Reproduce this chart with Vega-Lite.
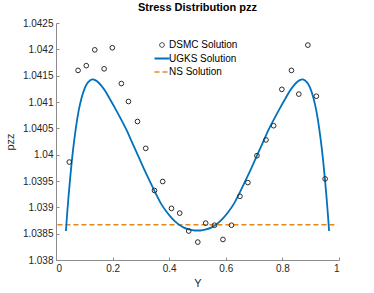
{
  "$schema": "https://vega.github.io/schema/vega-lite/v6.json",
  "width": 283,
  "height": 237,
  "autosize": {"type": "none"},
  "padding": {"left": 56, "top": 23, "right": 35, "bottom": 33},
  "background": "white",
  "config": {
    "font": "Liberation Sans",
    "view": {"stroke": null},
    "axis": {
      "grid": false,
      "domainColor": "#8c8c8c",
      "tickColor": "#8c8c8c",
      "labelColor": "#262626",
      "titleColor": "#262626",
      "labelFontSize": 10,
      "titleFontSize": 11,
      "titleFontWeight": "normal",
      "tickSize": -3,
      "labelPadding": 6
    }
  },
  "title": {
    "text": "Stress Distribution pzz",
    "fontSize": 11,
    "fontWeight": "bold",
    "color": "#000000",
    "anchor": "middle",
    "offset": 5
  },
  "layer": [
    {
      "data": {"values": [
        {"Y": 0.005, "p": 1.03867, "series": "NS Solution"},
        {"Y": 0.995, "p": 1.03867, "series": "NS Solution"}
      ]},
      "mark": {"type": "line", "strokeWidth": 1.4, "strokeDash": [5, 3]},
      "encoding": {
        "x": {"field": "Y", "type": "quantitative"},
        "y": {"field": "p", "type": "quantitative"},
        "color": {"field": "series", "type": "nominal"}
      }
    },
    {
      "data": {"values": [
        {"Y": 0.035, "p": 1.03855}, {"Y": 0.040, "p": 1.03892}, {"Y": 0.045, "p": 1.03925},
        {"Y": 0.050, "p": 1.03955}, {"Y": 0.055, "p": 1.03983}, {"Y": 0.060, "p": 1.04008},
        {"Y": 0.065, "p": 1.04030}, {"Y": 0.070, "p": 1.04050}, {"Y": 0.080, "p": 1.04083},
        {"Y": 0.090, "p": 1.04107}, {"Y": 0.100, "p": 1.04124}, {"Y": 0.110, "p": 1.04135},
        {"Y": 0.120, "p": 1.04141}, {"Y": 0.130, "p": 1.04143}, {"Y": 0.140, "p": 1.04141},
        {"Y": 0.150, "p": 1.04137}, {"Y": 0.160, "p": 1.04131}, {"Y": 0.175, "p": 1.04120},
        {"Y": 0.190, "p": 1.04106}, {"Y": 0.210, "p": 1.04087}, {"Y": 0.230, "p": 1.04067},
        {"Y": 0.250, "p": 1.04046}, {"Y": 0.270, "p": 1.04022}, {"Y": 0.290, "p": 1.03998},
        {"Y": 0.310, "p": 1.03974}, {"Y": 0.330, "p": 1.03951}, {"Y": 0.350, "p": 1.03929},
        {"Y": 0.370, "p": 1.03908}, {"Y": 0.390, "p": 1.03892}, {"Y": 0.410, "p": 1.03879},
        {"Y": 0.430, "p": 1.03869}, {"Y": 0.450, "p": 1.03862}, {"Y": 0.470, "p": 1.03858},
        {"Y": 0.490, "p": 1.03856}, {"Y": 0.500, "p": 1.03856}, {"Y": 0.510, "p": 1.03856},
        {"Y": 0.530, "p": 1.03858}, {"Y": 0.550, "p": 1.03862}, {"Y": 0.570, "p": 1.03869},
        {"Y": 0.590, "p": 1.03879}, {"Y": 0.610, "p": 1.03892}, {"Y": 0.630, "p": 1.03908},
        {"Y": 0.650, "p": 1.03929}, {"Y": 0.670, "p": 1.03951}, {"Y": 0.690, "p": 1.03974},
        {"Y": 0.710, "p": 1.03998}, {"Y": 0.730, "p": 1.04022}, {"Y": 0.750, "p": 1.04046},
        {"Y": 0.770, "p": 1.04067}, {"Y": 0.790, "p": 1.04087}, {"Y": 0.810, "p": 1.04106},
        {"Y": 0.825, "p": 1.04120}, {"Y": 0.840, "p": 1.04131}, {"Y": 0.850, "p": 1.04137},
        {"Y": 0.860, "p": 1.04141}, {"Y": 0.870, "p": 1.04143}, {"Y": 0.880, "p": 1.04141},
        {"Y": 0.890, "p": 1.04135}, {"Y": 0.900, "p": 1.04124}, {"Y": 0.910, "p": 1.04107},
        {"Y": 0.920, "p": 1.04083}, {"Y": 0.930, "p": 1.04050}, {"Y": 0.935, "p": 1.04030},
        {"Y": 0.940, "p": 1.04008}, {"Y": 0.945, "p": 1.03983}, {"Y": 0.950, "p": 1.03955},
        {"Y": 0.955, "p": 1.03925}, {"Y": 0.960, "p": 1.03892}, {"Y": 0.965, "p": 1.03855}
      ]},
      "transform": [{"calculate": "'UGKS Solution'", "as": "series"}],
      "mark": {"type": "line", "strokeWidth": 1.8, "interpolate": "monotone"},
      "encoding": {
        "x": {"field": "Y", "type": "quantitative"},
        "y": {"field": "p", "type": "quantitative"},
        "color": {"field": "series", "type": "nominal"}
      }
    },
    {
      "data": {"values": [
        {"Y": 0.047, "p": 1.03986}, {"Y": 0.078, "p": 1.04160}, {"Y": 0.107, "p": 1.04169},
        {"Y": 0.137, "p": 1.04199}, {"Y": 0.170, "p": 1.04163}, {"Y": 0.199, "p": 1.04203},
        {"Y": 0.231, "p": 1.04135}, {"Y": 0.256, "p": 1.04101}, {"Y": 0.288, "p": 1.04063},
        {"Y": 0.317, "p": 1.04012}, {"Y": 0.348, "p": 1.03932}, {"Y": 0.377, "p": 1.03949},
        {"Y": 0.408, "p": 1.03898}, {"Y": 0.437, "p": 1.03889}, {"Y": 0.469, "p": 1.03855},
        {"Y": 0.501, "p": 1.03834}, {"Y": 0.529, "p": 1.03870}, {"Y": 0.560, "p": 1.03866},
        {"Y": 0.590, "p": 1.03839}, {"Y": 0.620, "p": 1.03866}, {"Y": 0.650, "p": 1.03921},
        {"Y": 0.678, "p": 1.03947}, {"Y": 0.710, "p": 1.03998}, {"Y": 0.742, "p": 1.04028},
        {"Y": 0.769, "p": 1.04055}, {"Y": 0.798, "p": 1.04124}, {"Y": 0.832, "p": 1.04160},
        {"Y": 0.858, "p": 1.04115}, {"Y": 0.890, "p": 1.04208}, {"Y": 0.920, "p": 1.04111},
        {"Y": 0.951, "p": 1.03954}
      ]},
      "transform": [{"calculate": "'DSMC Solution'", "as": "series"}],
      "mark": {"type": "point", "filled": false, "size": 22, "strokeWidth": 1, "opacity": 1},
      "encoding": {
        "x": {"field": "Y", "type": "quantitative"},
        "y": {"field": "p", "type": "quantitative"},
        "color": {"field": "series", "type": "nominal"}
      }
    }
  ],
  "resolve": {"scale": {"color": "shared"}},
  "encoding": {
    "x": {
      "field": "Y", "type": "quantitative",
      "scale": {"domain": [0, 1], "nice": false},
      "axis": {"values": [0, 0.2, 0.4, 0.6, 0.8, 1], "format": ".1~f", "title": "Y", "titlePadding": 4}
    },
    "y": {
      "field": "p", "type": "quantitative",
      "scale": {"domain": [1.038, 1.0425], "nice": false, "zero": false},
      "axis": {"values": [1.038, 1.0385, 1.039, 1.0395, 1.04, 1.0405, 1.041, 1.0415, 1.042, 1.0425], "format": ".4~f", "title": "pzz", "titlePadding": 7}
    },
    "color": {
      "field": "series", "type": "nominal",
      "scale": {"domain": ["DSMC Solution", "UGKS Solution", "NS Solution"], "range": ["#2b2b2b", "#0072BD", "#E8861C"]},
      "legend": {
        "title": null,
        "orient": "none",
        "legendX": 101,
        "legendY": 17,
        "padding": 0,
        "labelFontSize": 10,
        "labelColor": "#000000",
        "labelOffset": 2,
        "rowPadding": 3.5,
        "symbolSize": 225,
        "symbolType": "stroke",
        "encode": {
          "symbols": {
            "update": {
              "shape": {"signal": "datum.value === 'DSMC Solution' ? 'circle' : 'stroke'"},
              "size": {"signal": "datum.value === 'DSMC Solution' ? 22 : 225"},
              "strokeWidth": {"signal": "datum.value === 'DSMC Solution' ? 1 : (datum.value === 'UGKS Solution' ? 1.8 : 1.4)"},
              "strokeDash": {"signal": "datum.value === 'NS Solution' ? [5, 3] : [1, 0]"},
              "fill": {"value": "transparent"}
            }
          }
        }
      }
    }
  }
}
